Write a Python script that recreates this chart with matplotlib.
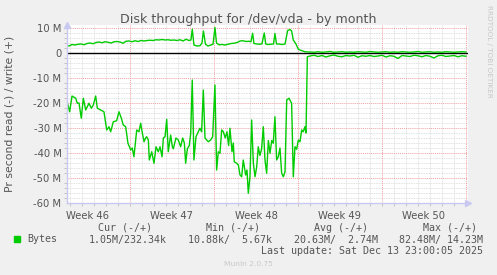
import matplotlib.pyplot as plt
from matplotlib.ticker import FixedLocator

W, H = 497, 275

title = "Disk throughput for /dev/vda - by month"
y_label = "Pr second read (-) / write (+)"
week_labels = ["Week 46", "Week 47", "Week 48", "Week 49", "Week 50"]
week_mid = [3.5, 10.5, 17.5, 24.5, 31.5]          # days since Monday of week 46
week_bounds = [7, 14, 21, 28, 35]
y_ticks = [10, 0, -10, -20, -30, -40, -50, -60]
y_tick_labels = ["10 M", "0", "-10 M", "-20 M", "-30 M", "-40 M", "-50 M", "-60 M"]

# read (-) in MB/s, plotted below zero
read_days = [1.78, 1.97, 2.17, 2.48, 2.61, 2.75, 2.94, 3.11, 3.31, 3.58, 3.78, 3.94, 4.14,
             4.28, 4.56, 4.83, 5.06, 5.25, 5.39, 5.61, 5.89, 6.08, 6.28, 6.44, 6.64, 6.83,
             7.06, 7.19, 7.33, 7.56, 7.75, 7.89, 8.03, 8.17, 8.29, 8.39, 8.53, 8.61, 8.81,
             9.0, 9.17, 9.36, 9.5, 9.67, 9.78, 9.92, 10.06, 10.19, 10.39, 10.53, 10.61,
             10.83, 11.03, 11.22, 11.39, 11.53, 11.64, 11.78, 11.94, 12.06, 12.19, 12.33,
             12.5, 12.69, 12.83, 12.97, 13.11, 13.25, 13.39, 13.53, 13.72, 13.89, 14.08,
             14.22, 14.36, 14.5, 14.64, 14.78, 14.94, 15.08, 15.22, 15.33, 15.5, 15.61,
             15.69, 15.89, 16.03, 16.17, 16.31, 16.44, 16.64, 16.75, 16.86, 17.0, 17.14,
             17.28, 17.42, 17.56, 17.69, 17.83, 17.97, 18.11, 18.25, 18.39, 18.53, 18.67,
             18.81, 18.94, 19.08, 19.22, 19.36, 19.5, 19.64, 19.78, 19.92, 20.06, 20.25,
             20.47, 20.61, 20.75, 20.89, 21.03, 21.17, 21.31, 21.44, 21.58, 21.67, 21.78]
read_mb = [-19.9, -23.5, -17.2, -18.1, -20.1, -20.0, -26.1, -18.1, -22.8, -20.1, -22.1,
           -20.8, -17.2, -22.1, -22.8, -23.5, -30.8, -29.5, -31.5, -27.5, -27.1, -23.5,
           -26.1, -28.8, -29.5, -36.1, -38.8, -38.0, -41.5, -30.8, -31.5, -28.1, -32.0,
           -35.5, -34.1, -33.5, -34.8, -42.8, -39.5, -44.1, -37.5, -39.5, -37.5, -41.5,
           -34.0, -33.5, -26.5, -39.5, -32.8, -37.5, -38.3, -34.0, -34.8, -37.5, -34.0,
           -36.0, -44.1, -38.3, -37.0, -32.1, -10.8, -42.8, -33.5, -31.5, -30.1, -31.5,
           -14.8, -34.0, -34.8, -35.5, -34.8, -33.5, -12.8, -46.8, -39.5, -40.1, -30.8,
           -31.5, -34.0, -31.5, -37.0, -30.1, -39.5, -36.0, -43.5, -44.1, -44.8, -48.8,
           -49.5, -42.8, -48.8, -46.8, -56.1, -49.5, -26.8, -44.1, -49.5, -45.5, -37.5,
           -41.0, -38.3, -29.5, -42.8, -48.1, -35.0, -40.1, -35.0, -36.1, -25.5, -42.8,
           -41.5, -38.0, -48.1, -49.5, -47.5, -18.8, -18.1, -20.1, -49.5, -37.5, -38.5,
           -34.8, -35.5, -30.8, -31.5, -29.5, -32.0, -1.5]
read_tail = [-1.2, -0.9, -1.4, -1.0, -1.6, -1.1, -0.8, -1.3, -1.5, -1.0, -1.2, -0.9, -1.7,
             -1.1, -1.3, -1.0, -1.4, -1.2, -0.9, -1.6, -1.1, -1.3, -2.2, -1.0, -1.2, -1.4,
             -0.9, -1.1, -1.5, -1.0, -1.3, -2.0, -1.1, -0.9, -1.4, -1.2, -1.0, -1.5, -1.1,
             -1.3]

# write (+) in MB/s
write_days = [1.75, 1.92, 2.17, 2.42, 2.67, 2.92, 3.17, 3.42, 3.67, 3.92, 4.17, 4.42, 4.67,
              4.92, 5.17, 5.42, 5.67, 5.92, 6.17, 6.42, 6.67, 6.92, 7.17, 7.42, 7.67, 7.92,
              8.17, 8.42, 8.67, 8.92, 9.17, 9.42, 9.67, 9.92, 10.17, 10.42, 10.67, 10.92,
              11.17, 11.42, 11.67, 11.92, 12.08, 12.19, 12.33, 12.58, 12.83, 13.0, 13.12,
              13.29, 13.5, 13.75, 13.92, 14.08, 14.21, 14.42, 14.67, 14.92, 15.17, 15.42,
              15.67, 15.92, 16.17, 16.42, 16.67, 16.92, 17.08, 17.22, 17.33, 17.58, 17.83,
              18.0, 18.19, 18.31, 18.5, 18.75, 18.96, 19.08, 19.21, 19.42, 19.67, 19.92,
              20.14, 20.33, 20.47, 20.61, 20.83, 21.03, 21.17, 21.42, 21.58, 21.83]
write_mb = [3.0, 2.8, 3.4, 3.2, 3.5, 3.6, 3.3, 3.8, 4.0, 3.7, 4.2, 4.4, 4.1, 4.5, 4.3, 4.0,
            4.5, 4.6, 4.4, 3.9, 4.7, 4.8, 4.5, 4.9, 4.6, 5.0, 4.8, 5.0, 5.1, 5.0, 5.3, 5.2,
            5.4, 5.2, 5.3, 5.1, 5.2, 5.0, 5.3, 4.8, 5.5, 5.0, 5.2, 9.5, 3.2, 2.8, 2.9, 4.0,
            8.8, 3.5, 2.8, 3.2, 3.5, 10.2, 4.0, 3.3, 3.4, 3.2, 3.5, 3.8, 3.9, 4.2, 4.8, 4.9,
            4.6, 4.7, 4.5, 7.9, 3.8, 3.6, 3.5, 3.7, 8.0, 3.6, 3.4, 3.5, 3.6, 7.8, 3.6, 3.6,
            3.4, 3.6, 9.0, 9.4, 8.8, 5.2, 3.6, 1.5, 1.2, 0.8, 0.5, 0.4]
write_tail = [0.4, 0.3, 0.5, 0.3, 0.4, 0.6, 0.3, 0.4, 0.5, 0.3, 0.4, 0.3, 0.5, 0.4, 0.3,
              0.6, 0.4, 0.3, 0.4, 0.5, 0.3, 0.4, 0.3, 0.5, 0.4, 0.3, 0.4, 0.6, 0.3, 0.4,
              0.5, 0.3, 0.4, 0.3, 0.5, 0.4, 0.3, 0.4, 0.5, 0.4]
tail_days = [round(22 + i / 3, 2) for i in range(len(read_tail))]

legend_name = "Bytes"
legend_cur = "1.05M/232.34k"
legend_min = "10.88k/  5.67k"
legend_avg = "20.63M/  2.74M"
legend_max = "82.48M/ 14.23M"
last_update = "Last update: Sat Dec 13 23:00:05 2025"

GREEN = "#00cc00"
TXT = "#555555"
BG = "#f0f0f0"


def fx(px):
    return px / W


def fy(py):
    return 1 - py / H


fig = plt.figure(figsize=(W / 100, H / 100), dpi=100, facecolor=BG)
ax = fig.add_axes([fx(67), fy(203), (468 - 67) / W, (203 - 25) / H])
ax.set_facecolor("white")
ax.set_xlim(1.75, 35.17)
ax.set_ylim(-60, 11.2)

# grid: minor every day / 2 M, major at week boundaries / 10 M
for d in range(2, 36):
    if d not in week_bounds:
        ax.axvline(d, color="#d6d6d6", lw=0.6, ls=(0, (1, 1)), zorder=0)
for v in range(-58, 12, 2):
    if v % 10:
        ax.axhline(v, color="#d6d6d6", lw=0.6, ls=(0, (1, 1)), zorder=0)
for d in week_bounds:
    ax.axvline(d, color="#f0a0a0", lw=0.7, ls=(0, (1, 1)), zorder=0)
for v in y_ticks:
    ax.axhline(v, color="#f0a0a0", lw=0.7, ls=(0, (1, 1)), zorder=0)

ax.axhline(0, color="black", lw=1.0, zorder=1)
ax.plot(read_days + tail_days, read_mb + read_tail, color=GREEN, lw=1, zorder=2)
ax.plot(write_days + tail_days, write_mb + write_tail, color=GREEN, lw=1, zorder=2)

for side in ("top", "right"):
    ax.spines[side].set_visible(False)
for side in ("left", "bottom"):
    ax.spines[side].set_color("#c8c8f0")
    ax.spines[side].set_linewidth(1)
ax.plot([1.75], [11.2], marker="^", color="#c8c8f0", ms=4, clip_on=False)
ax.plot([35.17], [-60], marker=">", color="#c8c8f0", ms=4, clip_on=False)

ax.set_xticks(week_mid, week_labels)
ax.set_yticks(y_ticks, y_tick_labels)
ax.xaxis.set_minor_locator(FixedLocator(range(2, 36)))
ax.yaxis.set_minor_locator(FixedLocator(range(-60, 12, 2)))
ax.tick_params(axis="both", which="major", length=0, colors=TXT, labelsize=7.2, pad=4)
ax.tick_params(axis="both", which="minor", length=2, color="#bbbbbb")
ax.tick_params(axis="x", which="major", pad=6)

fig.text(fx(248), fy(19), title, ha="center", va="center", fontsize=9.1, color=TXT)
fig.text(fx(10), fy(114), y_label, ha="center", va="center", rotation=90,
         fontsize=7.8, color=TXT)
fig.text(fx(489), fy(5), "RRDTOOL / TOBI OETIKER", ha="center", va="top", rotation=-90,
         fontsize=5.2, color="#c8c8c8")

mono = dict(family="DejaVu Sans Mono", fontsize=7.2, color=TXT, va="center")
fig.text(fx(152), fy(228), "Cur (-/+)", ha="right", **mono)
fig.text(fx(260), fy(228), "Min (-/+)", ha="right", **mono)
fig.text(fx(368), fy(228), "Avg (-/+)", ha="right", **mono)
fig.text(fx(477), fy(228), "Max (-/+)", ha="right", **mono)
fig.patches.append(plt.Rectangle((fx(14), fy(242)), 6 / W, 6 / H, color=GREEN,
                                 transform=fig.transFigure, figure=fig))
fig.text(fx(27), fy(239.5), legend_name, ha="left", **mono)
fig.text(fx(167), fy(239.5), legend_cur, ha="right", **mono)
fig.text(fx(272), fy(239.5), legend_min, ha="right", **mono)
fig.text(fx(378), fy(239.5), legend_avg, ha="right", **mono)
fig.text(fx(483), fy(239.5), legend_max, ha="right", **mono)
fig.text(fx(483), fy(251.5), last_update, ha="right", **mono)
fig.text(fx(248), fy(264), "Munin 2.0.75", ha="center", va="center", fontsize=5.4,
         color="#c8c8c8")

fig.savefig("out.png", dpi=100, facecolor=BG)
